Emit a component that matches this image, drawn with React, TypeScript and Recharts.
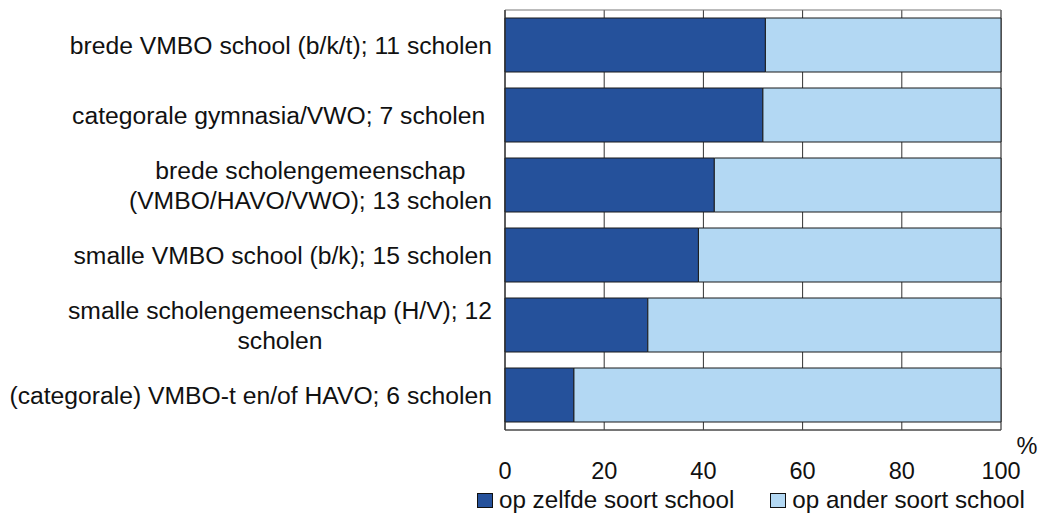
import React from 'react';
import { BarChart, Bar, XAxis, YAxis, CartesianGrid, ReferenceArea, Legend, Label } from 'recharts';

const categories = [
  'brede VMBO school (b/k/t); 11 scholen',
  'categorale gymnasia/VWO; 7 scholen ',
  'brede scholengemeenschap\n(VMBO/HAVO/VWO); 13 scholen',
  'smalle VMBO school (b/k); 15 scholen',
  'smalle scholengemeenschap (H/V); 12\nscholen',
  '(categorale) VMBO-t en/of HAVO; 6 scholen',
];
const zelfdeSoort = [52.5, 52.0, 42.2, 39.0, 28.8, 13.9];
const anderSoort = [47.5, 48.0, 57.8, 61.0, 71.2, 86.1];
const seriesNames = ['op zelfde soort school', 'op ander soort school'];
const seriesColors = ['#25519b', '#b3d8f3'];
const xTicks = [0, 20, 40, 60, 80, 100];

const data = categories.map((name, i) => ({ name, zelfde: zelfdeSoort[i], ander: anderSoort[i] }));

const FONT = '"Liberation Sans", Arial, Helvetica, sans-serif';
const LABEL_SIZE = 24.7;

let ctx: CanvasRenderingContext2D | null = null;
function measure(t: string): number {
  if (!ctx) {
    const c = document.createElement('canvas');
    ctx = c.getContext('2d');
  }
  if (!ctx) return t.length * LABEL_SIZE * 0.5;
  ctx.font = `${LABEL_SIZE}px "Liberation Sans"`;
  return ctx.measureText(t).width;
}

const YTick = (props: any) => {
  const { x, y, payload } = props;
  const lines = String(payload.value).split('\n');
  const lh = 30;
  if (lines.length === 1) {
    return (
      <text x={x} y={y} dy="0.38em" textAnchor="end" fill="#111" fontSize={LABEL_SIZE} fontFamily={FONT} style={{ whiteSpace: 'pre' }}>
        {lines[0]}
      </text>
    );
  }
  const w = Math.max(...lines.map(measure));
  const cx = x - w / 2;
  return (
    <text textAnchor="middle" fill="#111" fontSize={LABEL_SIZE} fontFamily={FONT} style={{ whiteSpace: 'pre' }}>
      {lines.map((l, i) => (
        <tspan key={i} x={cx} y={y + (i - (lines.length - 1) / 2) * lh} dy="0.38em">
          {l}
        </tspan>
      ))}
    </text>
  );
};

const XTick = (props: any) => {
  const { x, y, payload } = props;
  return (
    <text x={x} y={y} dy="0.71em" textAnchor="middle" fill="#111" fontSize={23.5} fontFamily={FONT}>
      {payload.value}
    </text>
  );
};

const LegendContent = () => (
  <div style={{ display: 'flex', alignItems: 'center', paddingLeft: 477, fontFamily: FONT, fontSize: 24.2, color: '#111', lineHeight: '28px', whiteSpace: 'nowrap' }}>
    {seriesNames.map((n, i) => (
      <div key={n} style={{ display: 'flex', alignItems: 'center', marginRight: 36 }}>
        <span style={{ display: 'inline-block', width: 14, height: 13, background: seriesColors[i], border: '1px solid #111', marginRight: 6 }} />
        <span>{n}</span>
      </div>
    ))}
  </div>
);

export default function App() {
  return (
    <div style={{ position: 'absolute', left: 0, top: 0, width: 1055, height: 519, background: '#fff' }}>
      <BarChart
        width={1055}
        height={519}
        data={data}
        layout="vertical"
        margin={{ top: 10, right: 54, bottom: 59, left: 0 }}
        barSize={54}
      >
        <CartesianGrid vertical horizontal={false} stroke="#333" strokeWidth={1} />
        <XAxis
          type="number"
          domain={[0, 100]}
          ticks={xTicks}
          tick={<XTick />}
          tickLine={false}
          tickSize={0}
          tickMargin={32}
          axisLine={{ stroke: '#333' }}
          interval={0}
        >
          <Label
            content={(p: any) => {
              const vb = p.viewBox;
              return (
                <text x={vb.x + vb.width + 26} y={vb.y + 24} textAnchor="middle" fill="#111" fontSize={23.5} fontFamily={FONT}>
                  %
                </text>
              );
            }}
          />
        </XAxis>
        <YAxis
          type="category"
          dataKey="name"
          width={505}
          tick={<YTick />}
          tickLine={false}
          tickSize={0}
          tickMargin={13}
          axisLine={{ stroke: '#333' }}
          interval={0}
        />
        <ReferenceArea x1={0} x2={100} fill="none" stroke="#777" strokeWidth={1} ifOverflow="visible" />
        <Bar dataKey="zelfde" name={seriesNames[0]} stackId="a" fill={seriesColors[0]} stroke="#1a1a1a" strokeWidth={1} isAnimationActive={false} />
        <Bar dataKey="ander" name={seriesNames[1]} stackId="a" fill={seriesColors[1]} stroke="#1a1a1a" strokeWidth={1} isAnimationActive={false} />
        <Legend
          content={<LegendContent />}
          wrapperStyle={{ left: 0, top: 486, width: 1055, height: 0, overflow: 'visible' }}
        />
      </BarChart>
    </div>
  );
}
